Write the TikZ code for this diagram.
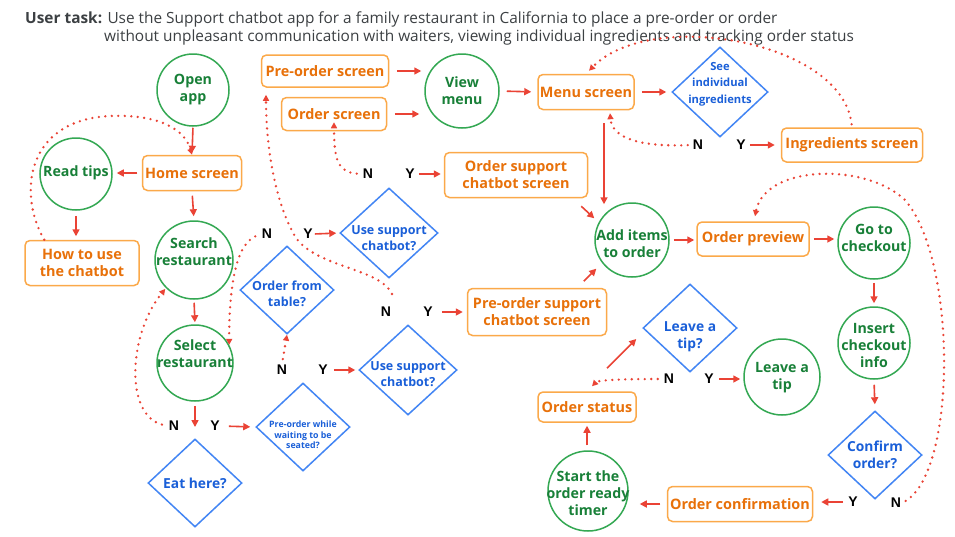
\documentclass[tikz,border=0pt]{standalone}
\usepackage{fontspec}
\setmainfont{Open Sans}
\newfontfamily\ynfam{Liberation Sans}
\usetikzlibrary{shapes.geometric,arrows.meta}
\definecolor{gstroke}{HTML}{34A853}
\definecolor{gtext}{HTML}{188038}
\definecolor{ostroke}{HTML}{FBA94A}
\definecolor{otext}{HTML}{E8710A}
\definecolor{bstroke}{HTML}{4285F4}
\definecolor{btext}{HTML}{1A5FD8}
\definecolor{arrred}{HTML}{EA4335}
\definecolor{titlegray}{HTML}{3C4043}
\tikzset{
 gc/.style={circle, draw=gstroke, line width=1.5pt, inner sep=0pt},
 gt/.style={text=gtext, font=\fontsize{14.2}{17}\selectfont\bfseries, align=center, inner sep=0pt},
 ob/.style={rectangle, rounded corners=5pt, draw=ostroke, line width=1.5pt, text=otext, font=\fontsize{14.4}{17}\selectfont\bfseries, align=center, inner sep=0pt},
 db/.style={diamond, draw=bstroke, line width=1.5pt, inner sep=0pt, minimum width=94pt, minimum height=88pt},
 dt/.style={text=btext, font=\fontsize{12.5}{16}\selectfont\bfseries, align=center, inner sep=0pt},
 yn/.style={font=\ynfam\fontsize{14}{14}\selectfont\bfseries, inner sep=1pt},
 arr/.style={draw=arrred, line width=1.6pt, -{Triangle[length=7pt,width=7pt]}},
 dots/.style={draw=arrred, line width=2.6pt, line cap=round, dash pattern=on 0pt off 6.5pt, -{Triangle[length=6pt,width=6pt]}},
 ttl/.style={anchor=base west, text=titlegray, font=\fontsize{15.4}{18}\selectfont, inner sep=0pt},
}
\begin{document}
\begin{tikzpicture}[x=1pt,y=-1pt]
\useasboundingbox (0,0) rectangle (955,536);
\fill[white] (0,0) rectangle (955,536);

% title
\node[ttl] (title1) at (25,23) {\textbf{User task:} Use the Support chatbot app for a family restaurant in California to place a pre-order or order};
\node[ttl] (title2) at (104,41) {without unpleasant communication with waiters, viewing individual ingredients and tracking order status};

% circles
\node[gc, minimum size=72pt] (oa) at (193,90) {};
\node[gt] (oat) at (193,90) {Open\\app};
\node[gc, minimum size=72pt] (rt) at (76,174) {};
\node[gt] (rtt) at (76,173) {Read tips};
\node[gc, minimum size=78pt] (sr) at (194,260) {};
\node[gt] (srt) at (194,252) {Search\\restaurant};
\node[gc, minimum size=76pt] (sel) at (195,363) {};
\node[gt] (selt) at (195,354) {Select\\restaurant};
\node[gc, minimum size=74pt] (vm) at (462,91) {};
\node[gt] (vmt) at (462,91) {View\\menu};
\node[gc, minimum size=74pt] (ai) at (632,240) {};
\node[gt] (ait) at (632,244) {Add items\\to order};
\node[gc, minimum size=72pt] (gtc) at (874,243) {};
\node[gt] (gtct) at (874,238) {Go to\\checkout};
\node[gc, minimum size=72pt] (ici) at (874,343) {};
\node[gt] (icit) at (874,345) {Insert\\checkout\\info};
\node[gc, minimum size=76pt] (lat) at (782,377) {};
\node[gt] (latt) at (782,378) {Leave a\\tip};
\node[gc, minimum size=80pt] (sot) at (588,491) {};
\node[gt] (sott) at (588,493) {Start the\\order ready\\timer};

% rounded boxes
\node[ob, minimum width=127pt, minimum height=32pt] (pos) at (325,71) {Pre-order screen};
\node[ob, minimum width=105pt, minimum height=33pt] (os) at (334,114) {Order screen};
\node[ob, minimum width=99pt, minimum height=35pt] (hs) at (192,173) {Home screen};
\node[ob, minimum width=114pt, minimum height=45pt] (htu) at (82,263) {How to use\\the chatbot};
\node[ob, minimum width=96pt, minimum height=35pt] (ms) at (586,92) {Menu screen};
\node[ob, minimum width=141pt, minimum height=34pt] (is) at (852,145) {Ingredients screen};
\node[ob, minimum width=143pt, minimum height=45pt] (ocs) at (516,175) {Order support\\chatbot screen};
\node[ob, minimum width=139pt, minimum height=47pt] (pcs) at (537,312) {Pre-order support\\chatbot screen};
\node[ob, minimum width=112pt, minimum height=34pt] (op) at (753,239) {Order preview};
\node[ob, minimum width=98pt, minimum height=30pt] (ost) at (587,407) {Order status};
\node[ob, minimum width=145pt, minimum height=35pt] (oc) at (740,504) {Order confirmation};

% diamonds
\node[db, minimum width=96pt, minimum height=90pt] (d1) at (720,92) {};
\node[dt, font=\fontsize{11.2}{16.5}\selectfont\bfseries] (d1t) at (720,84) {See\\individual\\ingredients};
\node[db, minimum width=98pt, minimum height=90pt] (d2) at (389,233) {};
\node[dt] (d2t) at (389,238) {Use support\\chatbot?};
\node[db] (d3) at (287,290) {};
\node[dt] (d3t) at (287,294) {Order from\\table?};
\node[db, minimum width=98pt, minimum height=90pt] (d4) at (408,370) {};
\node[dt] (d4t) at (408,374) {Use support\\chatbot?};
\node[db] (d5) at (303,427) {};
\node[dt, font=\fontsize{8.8}{10.5}\selectfont\bfseries] (d5t) at (303,435) {Pre-order while\\waiting to be\\seated?};
\node[db] (d6) at (195,483) {};
\node[dt, font=\fontsize{13.8}{16}\selectfont\bfseries] (d6t) at (195,483) {Eat here?};
\node[db] (d7) at (690,328) {};
\node[dt, font=\fontsize{13.8}{17}\selectfont\bfseries] (d7t) at (690,337) {Leave a\\tip?};
\node[db] (d8) at (875,455) {};
\node[dt, font=\fontsize{13.8}{17}\selectfont\bfseries] (d8t) at (875,455) {Confirm\\order?};

% Y / N labels
\node[yn] (n1) at (698,145) {N};
\node[yn] (y1) at (741,145) {Y};
\node[yn] (n2) at (368,174) {N};
\node[yn] (y2) at (410,174) {Y};
\node[yn] (n3) at (267,234) {N};
\node[yn] (y3) at (308,234) {Y};
\node[yn] (n4) at (386,312) {N};
\node[yn] (y4) at (428,312) {Y};
\node[yn] (n5) at (282,370) {N};
\node[yn] (y5) at (323,370) {Y};
\node[yn] (n6) at (174,426) {N};
\node[yn] (y6) at (215,426) {Y};
\node[yn] (n7) at (669,379) {N};
\node[yn] (y7) at (709,379) {Y};
\node[yn] (y8) at (853,502) {Y};
\node[yn] (n8) at (896,503) {N};
\coordinate (c6) at (195,427);

% solid arrows
\draw[arr, shorten <=1pt, shorten >=2pt] (oa.south) -- (hs.north);
\draw[arr, shorten <=4.5pt, shorten >=4pt] (hs.west) -- (hs.west -| rt.east);
\draw[arr, shorten <=5pt, shorten >=3.5pt] (rt.south) -- (htu.north -| rt.south);
\draw[arr, shorten <=4.5pt, shorten >=4pt] (hs.south) -- (sr.north);
\draw[arr, shorten <=3pt, shorten >=2pt] (sr.south) -- (sel.north);
\draw[arr, shorten <=4pt] (sel.south) -- (c6);
\draw[arr, shorten <=8pt, shorten >=5pt] (y6.east) -- (d5.west);
\draw[arr, shorten <=5pt, shorten >=3pt] (y5.east) -- (d4.west);
\draw[arr, shorten <=8pt, shorten >=4pt] (y4.east) -- (y4.east -| pcs.west);
\draw[arr, shorten <=1pt, shorten >=3pt] (y3.east) -- (d2.west);
\draw[arr, shorten <=3pt, shorten >=3pt] (y2.east) -- (y2.east -| ocs.west);
\draw[arr, shorten <=7.5pt, shorten >=3pt] (pos.east) -- (pos.east -| vm.west);
\draw[arr, shorten <=7.5pt, shorten >=5pt] (os.east) -- (os.east -| vm.west);
\draw[arr, shorten <=7pt, shorten >=6pt] (vm.east) -- (ms.west);
\draw[arr, shorten <=7pt, shorten >=5pt] (ms.east) -- (d1.west);
\draw[arr, shorten <=3pt, shorten >=6pt] (y1.east) -- (y1.east -| is.west);
\path ([xshift=18pt]ms.south) coordinate (msb);
\draw[arr, shorten <=13pt, shorten >=-2pt] (msb) -- (msb |- ai.north);
\draw[arr] ([shift={(-7,8)}]ocs.south east) -- ([shift={(-11,5)}]ai.north west);
\draw[arr] ([shift={(-23.5,-6.5)}]pcs.north east) -- ([shift={(-9,2)}]ai.south west);
\draw[arr, shorten <=4pt, shorten >=2pt] (ai.east) -- (ai.east -| op.west);
\draw[arr, shorten <=4pt, shorten >=3pt] (op.east) -- (op.east -| gtc.west);
\draw[arr, shorten <=3pt, shorten >=3pt] (gtc.south) -- (ici.north);
\draw[arr, shorten <=5pt, shorten >=6pt] (ici.south) -- (d8.north);
\draw[arr, shorten <=4pt, shorten >=8pt] (y8.west) -- (y8.west -| oc.east);
\draw[arr, shorten <=6.5pt, shorten >=11pt] (oc.west) -- (oc.west -| sot.east);
\draw[arr, shorten <=5pt, shorten >=3pt] (sot.north -| ost.south) -- (ost.south);
\draw[arr] ([shift={(20,-23)}]ost.north) -- ([shift={(-6,11)}]d7.west);
\draw[arr, shorten <=4pt, shorten >=3pt] (y7.east) -- (y7.east -| lat.west);

% dotted arrows
\draw[dots] ([xshift=20pt]htu.north west) .. controls (18,195) and (25,120) .. (110,116) .. controls (160,114) and (185,130) .. (hs.north);
\draw[dots, shorten <=6pt, shorten >=1pt] (n6.west) .. controls (125,415) and (128,335) .. (sr.south west);
\draw[dots, shorten <=6pt] (n3.west) .. controls (233,246) and (229,300) .. (sel.28);
\draw[dots, shorten <=5pt] (n5.north) -- (d3.south);
\draw[dots] ([shift={(6,-12)}]n4.north) .. controls (380,268) and (318,268) .. (296,238) .. controls (276,205) and (266,150) .. ([shift={(-59,7)}]pos.south);
\draw[dots, shorten <=5pt] (n2.west) .. controls (338,172) and (334,160) .. ([yshift=9pt]os.south);
\draw[dots, shorten <=4pt] (n1.west) .. controls (640,147) and (612,138) .. ([shift={(24,3)}]ms.south);
\draw[dots, shorten <=3pt] (is.north) .. controls (842,40) and (650,8) .. ([shift={(3,-3)}]ms.north);
\draw[dots, shorten <=4pt] (n8.east) .. controls (957,470) and (957,260) .. (905,200) .. controls (865,162) and (765,165) .. ([shift={(2,-5)}]op.north);
\draw[dots, shorten <=5pt] (n7.west) .. controls (625,379) and (598,380) .. ([shift={(5,-5)}]ost.north);
\end{tikzpicture}
\end{document}
